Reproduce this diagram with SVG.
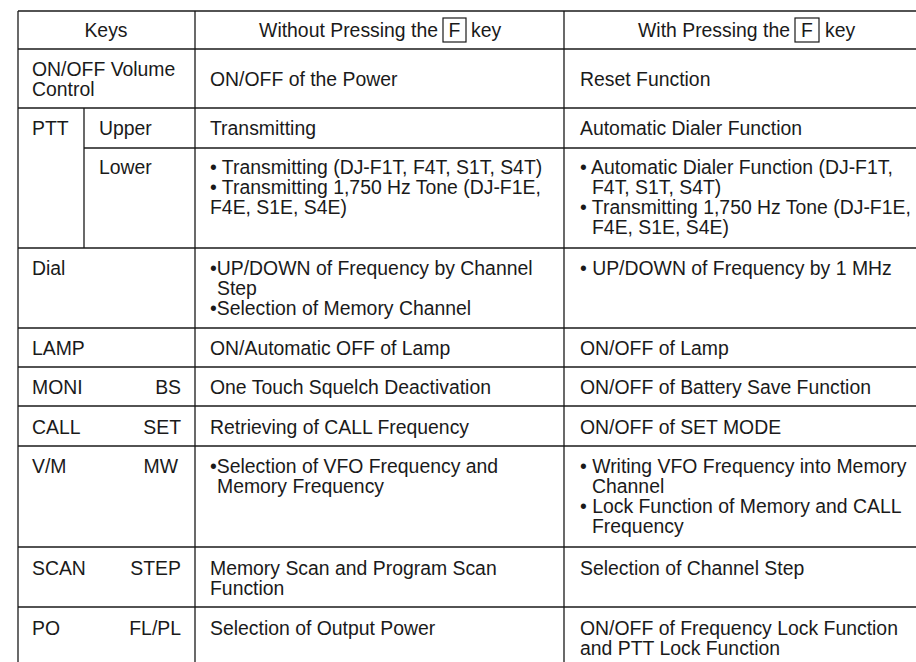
<svg xmlns="http://www.w3.org/2000/svg" width="916" height="662" viewBox="0 0 916 662">
<style>
text{font-family:"Liberation Sans",Arial,sans-serif;font-size:19.4px;fill:#1a1a1a}
.ln{stroke:#1a1a1a;stroke-width:1.3;fill:none}
.c{text-anchor:middle}
.r{text-anchor:end}
.key{fill:none;stroke:#1a1a1a;stroke-width:1.2}
</style>
<rect width="916" height="662" fill="#fff"/>
<g id="grid" class="ln">
<line x1="18" y1="11" x2="916" y2="11"/>
<line x1="18" y1="49" x2="916" y2="49"/>
<line x1="18" y1="108" x2="916" y2="108"/>
<line x1="84" y1="148" x2="916" y2="148"/>
<line x1="18" y1="248" x2="916" y2="248"/>
<line x1="18" y1="328" x2="916" y2="328"/>
<line x1="18" y1="367" x2="916" y2="367"/>
<line x1="18" y1="406" x2="916" y2="406"/>
<line x1="18" y1="446" x2="916" y2="446"/>
<line x1="18" y1="547" x2="916" y2="547"/>
<line x1="18" y1="607" x2="916" y2="607"/>
<line x1="18" y1="11" x2="18" y2="662"/>
<line x1="195" y1="11" x2="195" y2="662"/>
<line x1="564" y1="11" x2="564" y2="662"/>
<line x1="84" y1="108" x2="84" y2="248"/>
</g>
<g id="header">
<text class="c" x="106" y="37">Keys</text>
<text class="r" x="438" y="37">Without Pressing the</text>
<rect class="key" x="443" y="18" width="23" height="24"/>
<text class="c" x="454.5" y="37">F</text>
<text x="471" y="37">key</text>
<text class="r" x="790" y="37">With Pressing the</text>
<rect class="key" x="795" y="18" width="24" height="24"/>
<text class="c" x="807" y="37">F</text>
<text x="825" y="37">key</text>
</g>
<g id="row-volume">
<text x="32" y="76">ON/OFF Volume</text>
<text x="32" y="96">Control</text>
<text x="210" y="86">ON/OFF of the Power</text>
<text x="580" y="86">Reset Function</text>
</g>
<g id="row-ptt">
<text x="32" y="135">PTT</text>
<text x="99" y="135">Upper</text>
<text x="210" y="135">Transmitting</text>
<text x="580" y="135">Automatic Dialer Function</text>
<text x="99" y="174">Lower</text>
<text x="210" y="174">• Transmitting (DJ-F1T, F4T, S1T, S4T)</text>
<text x="210" y="194">• Transmitting 1,750 Hz Tone (DJ-F1E,</text>
<text x="210" y="214">F4E, S1E, S4E)</text>
<text x="580" y="174">• Automatic Dialer Function (DJ-F1T,</text>
<text x="592" y="194">F4T, S1T, S4T)</text>
<text x="580" y="214">• Transmitting 1,750 Hz Tone (DJ-F1E,</text>
<text x="592" y="234">F4E, S1E, S4E)</text>
</g>
<g id="row-dial">
<text x="32" y="275">Dial</text>
<text x="210" y="275">•UP/DOWN of Frequency by Channel</text>
<text x="217" y="295">Step</text>
<text x="210" y="315">•Selection of Memory Channel</text>
<text x="580" y="275">• UP/DOWN of Frequency by 1 MHz</text>
</g>
<g id="row-lamp">
<text x="32" y="355">LAMP</text>
<text x="210" y="355">ON/Automatic OFF of Lamp</text>
<text x="580" y="355">ON/OFF of Lamp</text>
</g>
<g id="row-moni">
<text x="32" y="394">MONI</text>
<text class="r" x="181" y="394">BS</text>
<text x="210" y="394">One Touch Squelch Deactivation</text>
<text x="580" y="394">ON/OFF of Battery Save Function</text>
</g>
<g id="row-call">
<text x="32" y="434">CALL</text>
<text class="r" x="181" y="434">SET</text>
<text x="210" y="434">Retrieving of CALL Frequency</text>
<text x="580" y="434">ON/OFF of SET MODE</text>
</g>
<g id="row-vm">
<text x="32" y="473">V/M</text>
<text class="r" x="178" y="473">MW</text>
<text x="210" y="473">•Selection of VFO Frequency and</text>
<text x="217" y="493">Memory Frequency</text>
<text x="580" y="473">• Writing VFO Frequency into Memory</text>
<text x="592" y="493">Channel</text>
<text x="580" y="513">• Lock Function of Memory and CALL</text>
<text x="592" y="533">Frequency</text>
</g>
<g id="row-scan">
<text x="32" y="575">SCAN</text>
<text class="r" x="181" y="575">STEP</text>
<text x="210" y="575">Memory Scan and Program Scan</text>
<text x="210" y="595">Function</text>
<text x="580" y="575">Selection of Channel Step</text>
</g>
<g id="row-po">
<text x="32" y="635">PO</text>
<text class="r" x="181" y="635">FL/PL</text>
<text x="210" y="635">Selection of Output Power</text>
<text x="580" y="635">ON/OFF of Frequency Lock Function</text>
<text x="580" y="655">and PTT Lock Function</text>
</g>
</svg>
